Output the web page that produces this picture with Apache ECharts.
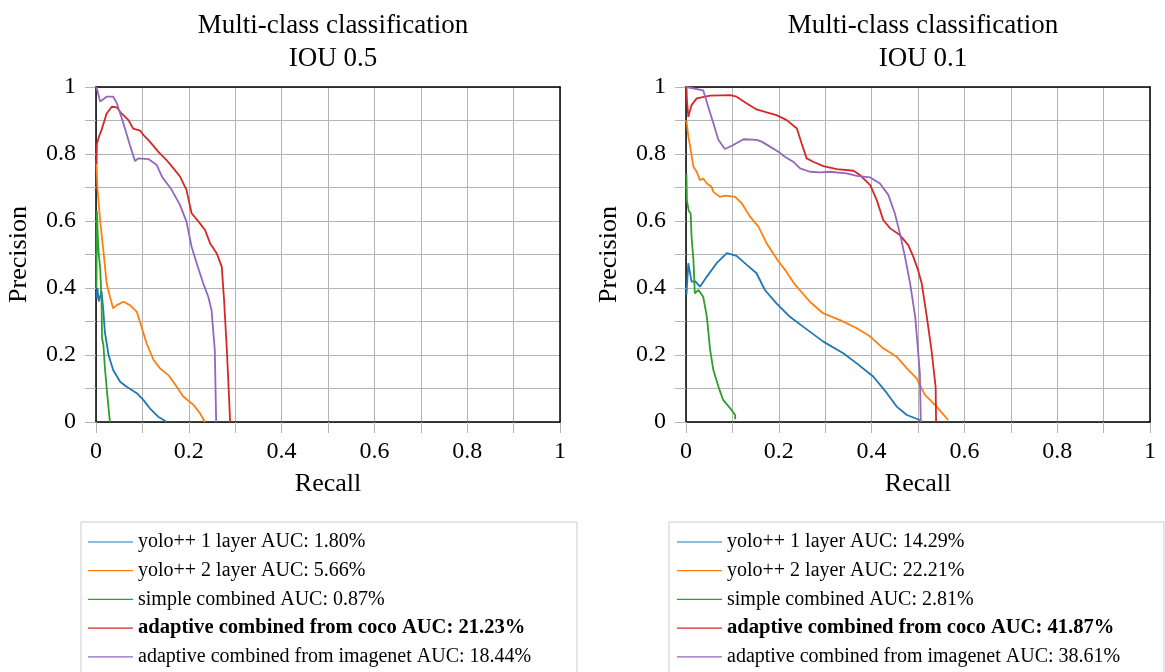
<!DOCTYPE html>
<html>
<head>
<meta charset="utf-8">
<script src="https://cdn.jsdelivr.net/npm/echarts@6/dist/echarts.min.js"></script>
<style>html,body{margin:0;padding:0;background:#fff;}#c{width:1165px;height:672px;}</style>
</head>
<body>
<div id="c"></div>
<script>
// ---------- data ----------
var titles = ['Multi-class classification\nIOU 0.5', 'Multi-class classification\nIOU 0.1'];
var xName = 'Recall';
var yName = 'Precision';
var seriesColors = ['#1f77b4', '#ff7f0e', '#2ca02c', '#d62728', '#9467bd'];
var namesIou05 = ['yolo++ 1 layer AUC: 1.80%', 'yolo++ 2 layer AUC: 5.66%', 'simple combined AUC: 0.87%', 'adaptive combined from coco AUC: 21.23%', 'adaptive combined from imagenet AUC: 18.44%'];
var namesIou01 = ['yolo++ 1 layer AUC: 14.29%', 'yolo++ 2 layer AUC: 22.21%', 'simple combined AUC: 2.81%', 'adaptive combined from coco AUC: 41.87%', 'adaptive combined from imagenet AUC: 38.61%'];
var boldIndex = 3;

var iou05_yolo1 = [[0.001,0.37],[0.003,0.40],[0.006,0.36],[0.012,0.39],[0.016,0.33],[0.019,0.27],[0.027,0.2],[0.037,0.155],[0.052,0.12],[0.066,0.105],[0.088,0.086],[0.102,0.066],[0.116,0.041],[0.134,0.016],[0.149,0.003],[0.152,0]];
var iou05_yolo2 = [[0.001,0.78],[0.003,0.70],[0.009,0.60],[0.016,0.51],[0.023,0.414],[0.03,0.374],[0.037,0.339],[0.045,0.349],[0.059,0.359],[0.073,0.349],[0.088,0.329],[0.098,0.284],[0.109,0.235],[0.124,0.185],[0.138,0.16],[0.156,0.14],[0.174,0.105],[0.188,0.076],[0.21,0.051],[0.224,0.026],[0.235,0]];
var iou05_simple = [[0.001,0.40],[0.002,0.63],[0.004,0.55],[0.006,0.50],[0.009,0.46],[0.012,0.36],[0.013,0.25],[0.014,0.245],[0.016,0.23],[0.019,0.165],[0.024,0.086],[0.03,0]];
var iou05_coco = [[0.001,0.77],[0.002,0.83],[0.006,0.85],[0.012,0.872],[0.023,0.921],[0.034,0.941],[0.045,0.939],[0.055,0.921],[0.07,0.901],[0.08,0.876],[0.095,0.870],[0.102,0.857],[0.116,0.837],[0.134,0.807],[0.152,0.782],[0.167,0.757],[0.181,0.733],[0.195,0.693],[0.206,0.623],[0.224,0.593],[0.235,0.573],[0.246,0.533],[0.26,0.504],[0.271,0.464],[0.276,0.364],[0.282,0.215],[0.287,0.066],[0.289,0]];
var iou05_imagenet = [[0.001,1.0],[0.009,0.957],[0.023,0.971],[0.037,0.971],[0.045,0.951],[0.059,0.892],[0.073,0.827],[0.084,0.779],[0.091,0.787],[0.113,0.785],[0.131,0.767],[0.142,0.733],[0.163,0.693],[0.181,0.648],[0.195,0.598],[0.206,0.523],[0.217,0.474],[0.231,0.414],[0.242,0.374],[0.249,0.334],[0.256,0.215],[0.259,0]];

var iou01_yolo1 = [[0.001,0.38],[0.005,0.474],[0.008,0.45],[0.012,0.419],[0.02,0.42],[0.03,0.404],[0.045,0.434],[0.066,0.474],[0.088,0.504],[0.109,0.496],[0.131,0.469],[0.152,0.444],[0.17,0.394],[0.195,0.354],[0.224,0.314],[0.253,0.284],[0.296,0.24],[0.339,0.205],[0.368,0.175],[0.404,0.135],[0.433,0.086],[0.454,0.046],[0.476,0.021],[0.504,0.006],[0.508,0]];
var iou01_yolo2 = [[0.001,0.9],[0.005,0.852],[0.009,0.822],[0.016,0.762],[0.023,0.747],[0.03,0.722],[0.037,0.727],[0.045,0.712],[0.055,0.702],[0.059,0.687],[0.073,0.672],[0.084,0.676],[0.106,0.672],[0.12,0.653],[0.138,0.613],[0.156,0.583],[0.174,0.533],[0.199,0.48],[0.213,0.455],[0.235,0.41],[0.267,0.359],[0.296,0.324],[0.332,0.304],[0.368,0.28],[0.397,0.255],[0.425,0.22],[0.454,0.195],[0.476,0.16],[0.497,0.13],[0.515,0.081],[0.54,0.046],[0.565,0.006]];
var iou01_simple = [[0.001,0.74],[0.002,0.66],[0.006,0.63],[0.01,0.623],[0.012,0.553],[0.016,0.484],[0.019,0.384],[0.027,0.394],[0.037,0.374],[0.045,0.314],[0.052,0.215],[0.059,0.155],[0.07,0.105],[0.08,0.066],[0.098,0.036],[0.106,0.021],[0.106,0.008]];
var iou01_coco = [[0.001,1.0],[0.002,0.96],[0.005,0.911],[0.012,0.946],[0.023,0.966],[0.052,0.974],[0.095,0.976],[0.109,0.971],[0.131,0.951],[0.152,0.933],[0.174,0.924],[0.195,0.916],[0.217,0.901],[0.239,0.876],[0.249,0.832],[0.26,0.787],[0.274,0.777],[0.296,0.764],[0.325,0.755],[0.361,0.75],[0.375,0.737],[0.397,0.707],[0.411,0.663],[0.425,0.603],[0.44,0.578],[0.461,0.558],[0.479,0.528],[0.49,0.493],[0.5,0.454],[0.508,0.414],[0.519,0.314],[0.529,0.215],[0.538,0.105],[0.539,0]];
var iou01_imagenet = [[0.001,1.0],[0.037,0.99],[0.048,0.941],[0.059,0.892],[0.07,0.842],[0.084,0.815],[0.102,0.827],[0.124,0.844],[0.152,0.842],[0.163,0.837],[0.181,0.822],[0.199,0.807],[0.213,0.792],[0.231,0.777],[0.246,0.757],[0.267,0.747],[0.289,0.745],[0.31,0.747],[0.346,0.742],[0.368,0.735],[0.397,0.73],[0.418,0.712],[0.436,0.678],[0.45,0.623],[0.461,0.563],[0.472,0.493],[0.483,0.414],[0.494,0.314],[0.5,0.215],[0.504,0.145],[0.506,0]];

var dataIou05 = [iou05_yolo1, iou05_yolo2, iou05_simple, iou05_coco, iou05_imagenet];
var dataIou01 = [iou01_yolo1, iou01_yolo2, iou01_simple, iou01_coco, iou01_imagenet];

// ---------- chart ----------
var FONT = 'Liberation Serif';
var GRID_COLOR = '#b4b4b4';
var chart = echarts.init(document.getElementById('c'), null, {renderer: 'canvas'});

var gridLefts = [96, 686];
var grids = gridLefts.map(function (l) { return {left: l, top: 87, width: 464, height: 335}; });

function mainAxis(i, isX) {
  return {
    type: 'value', gridIndex: i, min: 0, max: 1, interval: 0.2,
    name: isX ? xName : yName,
    nameLocation: 'middle',
    nameGap: isX ? 49 : 64,
    nameTextStyle: {fontFamily: FONT, fontSize: 26, color: '#000'},
    axisLine: {show: true, onZero: false, lineStyle: {color: '#000', width: 1.5}},
    axisTick: {show: true, inside: false, length: 11, lineStyle: {color: GRID_COLOR, width: 1}},
    minorTick: {show: true, splitNumber: 2, length: 11, lineStyle: {color: GRID_COLOR, width: 1}},
    splitLine: {show: true, lineStyle: {color: GRID_COLOR, width: 1}},
    minorSplitLine: {show: true, lineStyle: {color: GRID_COLOR, width: 1}},
    axisLabel: {fontFamily: FONT, fontSize: 24, color: '#000', margin: isX ? 18 : 20},
    z: 3
  };
}
function borderAxis(i, isX) {
  return {
    type: 'value', gridIndex: i, min: 0, max: 1, position: isX ? 'top' : 'right',
    axisLine: {show: true, onZero: false, lineStyle: {color: '#000', width: 1.5}},
    axisTick: {show: false}, axisLabel: {show: false}, splitLine: {show: false}, z: 4
  };
}

var xAxes = [mainAxis(0, true), mainAxis(1, true), borderAxis(0, true), borderAxis(1, true)];
var yAxes = [mainAxis(0, false), mainAxis(1, false), borderAxis(0, false), borderAxis(1, false)];

var series = [];
[[namesIou05, dataIou05], [namesIou01, dataIou01]].forEach(function (pair, gi) {
  pair[0].forEach(function (nm, k) {
    series.push({
      type: 'line', name: nm, xAxisIndex: gi, yAxisIndex: gi,
      data: pair[1][k], symbol: 'none', showSymbol: false, clip: false,
      color: seriesColors[k],
      lineStyle: {color: seriesColors[k], width: 1.8},
      z: 5 + k
    });
  });
});

function legendFor(names, left) {
  return {
    data: names, orient: 'vertical', left: left, top: 528,
    padding: 0, itemGap: 0.7, itemWidth: 45, itemHeight: 1.2,
    icon: 'rect',
    selectedMode: false,
    textStyle: {fontFamily: FONT, fontSize: 20, color: '#000', lineHeight: 28,
      rich: {b: {fontFamily: FONT, fontSize: 20.6, fontWeight: 'bold', color: '#000', lineHeight: 28}}},
    formatter: function (name) {
      return names.indexOf(name) === boldIndex ? '{b|' + name + '}' : name;
    }
  };
}
var legends = [legendFor(namesIou05, 88), legendFor(namesIou01, 677)];

var option = {
  backgroundColor: '#fff',
  animation: false,
  title: titles.map(function (t, i) {
    return {text: t, left: gridLefts[i] + 232, top: 4, textAlign: 'center',
      textStyle: {fontFamily: FONT, fontSize: 27, fontWeight: 'normal', color: '#000', lineHeight: 33}};
  }),
  grid: grids,
  xAxis: xAxes,
  yAxis: yAxes,
  legend: legends,
  series: series,
  graphic: [
    {type: 'rect', shape: {x: 81, y: 522, width: 496, height: 200}, style: {fill: '#fff', stroke: '#cccccc', lineWidth: 1}, z: -1, silent: true},
    {type: 'rect', shape: {x: 669, y: 522, width: 495, height: 200}, style: {fill: '#fff', stroke: '#cccccc', lineWidth: 1}, z: -1, silent: true}
  ]
};
chart.setOption(option);
</script>
</body>
</html>
